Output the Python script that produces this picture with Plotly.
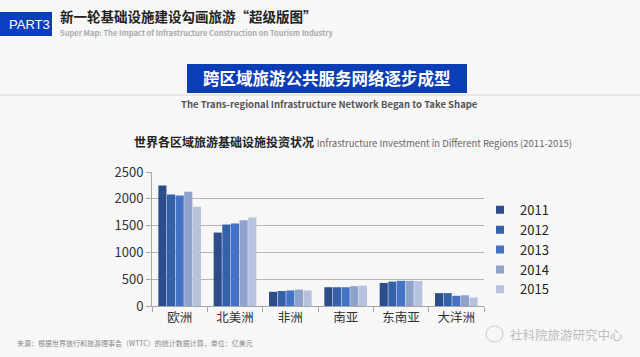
import plotly.graph_objects as go

regions = ["欧洲", "北美洲", "非洲", "南亚", "东南亚", "大洋洲"]
years = ["2011", "2012", "2013", "2014", "2015"]
v2011 = [2250, 1370, 265, 350, 430, 240]
v2012 = [2080, 1520, 280, 350, 455, 240]
v2013 = [2060, 1540, 290, 350, 470, 190]
v2014 = [2130, 1600, 305, 370, 470, 200]
v2015 = [1850, 1650, 290, 380, 465, 160]
series = [v2011, v2012, v2013, v2014, v2015]
colors = ["#2C4C8A", "#3461A8", "#4472C4", "#8EA2CC", "#B7C3DE"]

FONT = "Noto Sans CJK SC, Noto Sans, sans-serif"
W, H = 640, 357
L, R, T, B = 152, 484, 172, 306

fig = go.Figure()
for y, vals, c in zip(years, series, colors):
    fig.add_trace(go.Bar(x=regions, y=vals, name=y, showlegend=False,
                         marker=dict(color=c, line=dict(width=0))))
# legend entries with small square symbols
for y, c in zip(years, colors):
    fig.add_trace(go.Scatter(x=[None], y=[None], mode="markers", name=y,
                             marker=dict(symbol="square", size=8, color=c)))

fig.update_layout(
    width=W, height=H,
    margin=dict(l=L, r=W - R, t=T, b=H - B),
    paper_bgcolor="#F7F7F7", plot_bgcolor="#F7F7F7",
    barmode="group", bargap=0.22, bargroupgap=0.06,
    font=dict(family=FONT, color="#333333"),
    showlegend=True,
    legend=dict(x=(480 - L) / (R - L), xanchor="left", y=0.83, yanchor="top",
                font=dict(size=13, color="#222222", family=FONT),
                bgcolor="rgba(0,0,0,0)", itemwidth=30, tracegroupgap=0,
                itemsizing="trace"),
)
fig.update_xaxes(showline=True, linecolor="#A6A6A6", linewidth=1,
                 ticks="outside", tickson="boundaries", ticklen=5, tickcolor="#A6A6A6",
                 tickfont=dict(size=12.5, color="#333333"))
fig.update_yaxes(range=[0, 2500], dtick=500, showgrid=True, gridcolor="#B5B5B5", gridwidth=1,
                 showline=True, linecolor="#A6A6A6", ticks="outside", ticklen=5, tickcolor="#A6A6A6",
                 tickfont=dict(size=13, color="#333333"), zeroline=False)


def cx(x):
    return (x - L) / (R - L)


def cy(y):
    return ((H - y) - (H - B)) / (B - T)


def rect(x0, x1, y0, y1, color):
    fig.add_shape(type="rect", xref="paper", yref="paper",
                  x0=cx(x0), x1=cx(x1), y0=cy(y1), y1=cy(y0),
                  fillcolor=color, line=dict(width=0))


rect(0, 52, 12, 36, "#0B3FC0")
rect(187, 467, 64, 93, "#0B3DB5")
fig.add_shape(type="line", xref="paper", yref="paper", x0=cx(0), x1=cx(W), y0=cy(95), y1=cy(95),
              line=dict(color="#D5D5D5", width=1))
fig.add_shape(type="circle", xref="paper", yref="paper", x0=cx(486), x1=cx(503), y0=cy(342), y1=cy(326),
              line=dict(color="#C8C8C8", width=1))


def ann(text, x, y, size, color, xanchor="left", bold=False, family=FONT):
    t = f"<b>{text}</b>" if bold else text
    fig.add_annotation(text=t, xref="paper", yref="paper",
                       x=cx(x), y=cy(y),
                       xanchor=xanchor, yanchor="middle", showarrow=False,
                       font=dict(size=size, color=color, family=family))


ann("PART3", 29.5, 24, 13, "#FFFFFF", xanchor="center", family="Liberation Sans Narrow, Arial Narrow, sans-serif")
ann("新一轮基础设施建设勾画旅游“超级版图”", 58, 16, 13.5, "#222222", bold=True)
ann("Super Map: The Impact of Infrastructure Construction on Tourism Industry", 58, 33, 7.5, "#ABABAB", bold=True)
ann("跨区域旅游公共服务网络逐步成型", 327, 78, 16.5, "#FFFFFF", xanchor="center", bold=True)
ann("The Trans-regional Infrastructure Network Began to Take Shape", 329, 104, 9.5, "#555555", xanchor="center", bold=True)
ann("<b>世界各区域旅游基础设施投资状况</b> <span style='color:#666666;font-size:9.5px'>Infrastructure Investment in Different Regions (2011-2015)</span>",
    132, 141, 12, "#222222")
ann("来源：根据世界旅行和旅游理事会（WTTC）的统计数据计算，单位：亿美元", 15, 343, 7, "#888888")
ann("社科院旅游研究中心", 508, 334, 12.5, "#BDBDBD")

fig.write_html("out.html", config={"displayModeBar": False},
               post_script="document.body.style.margin='0';")
